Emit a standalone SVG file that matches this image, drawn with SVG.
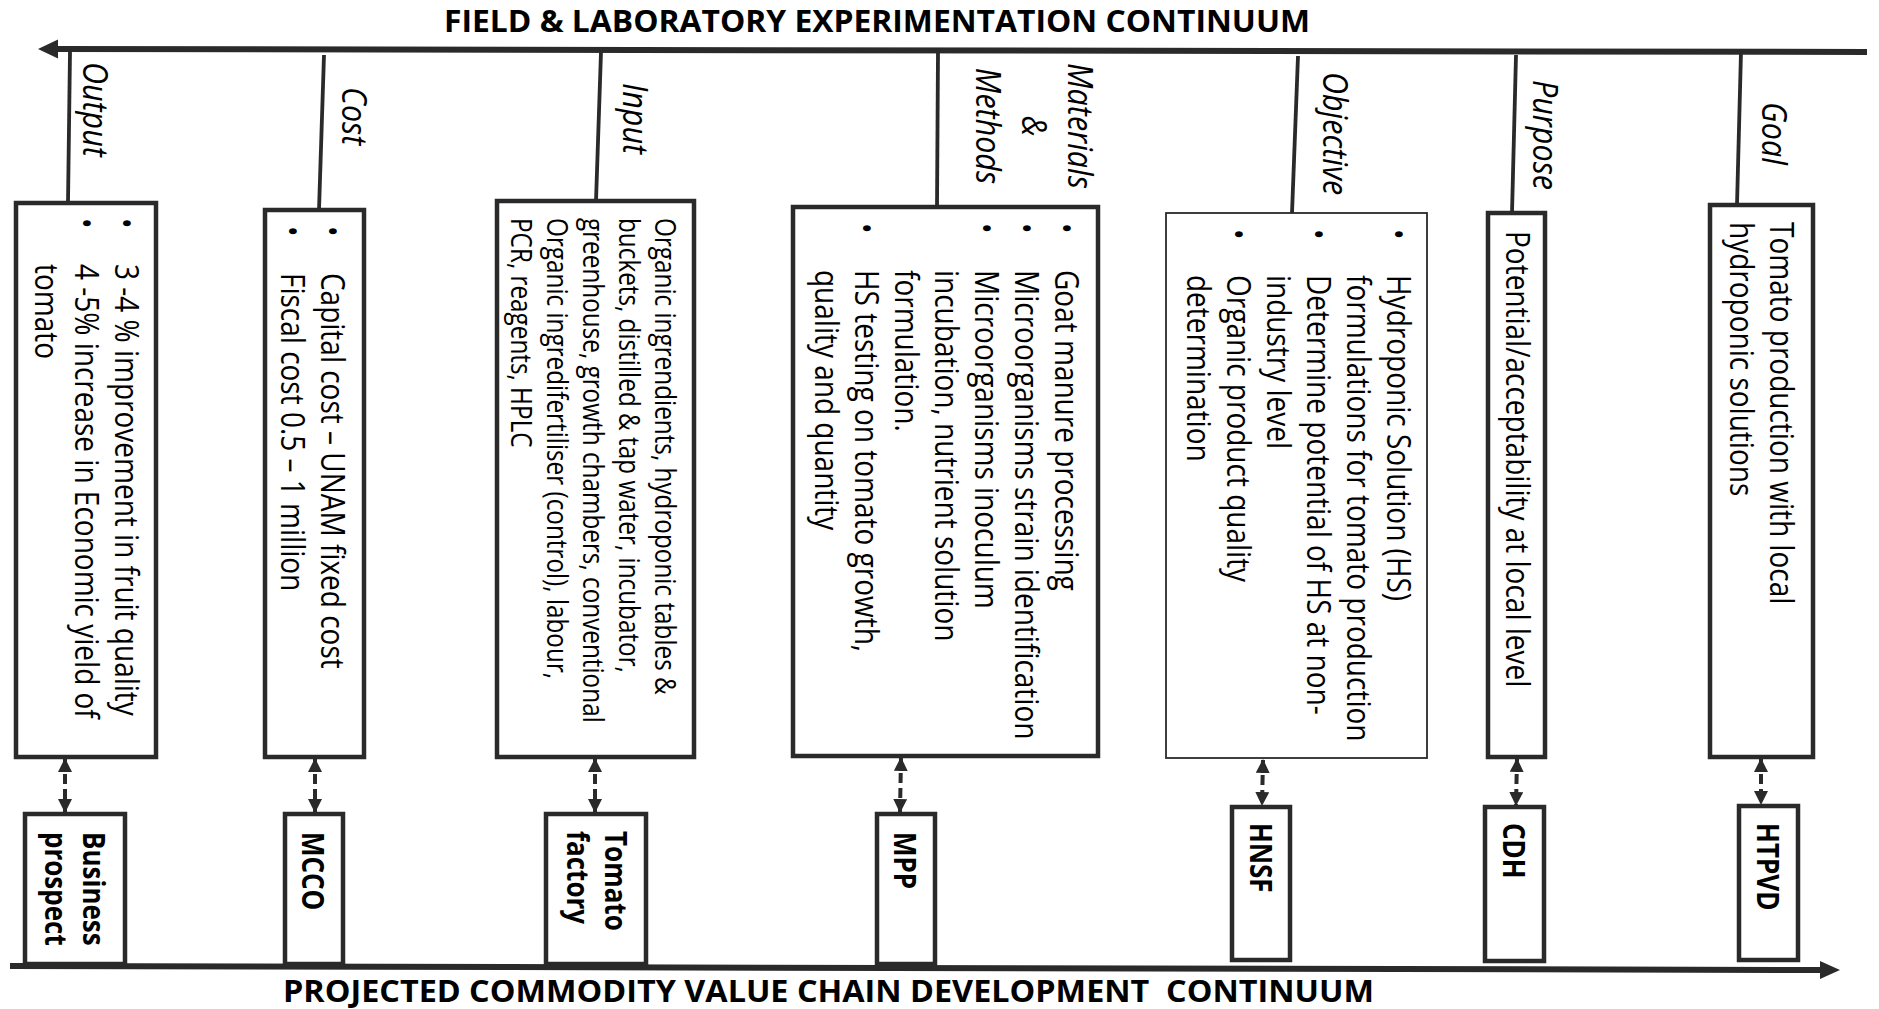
<svg xmlns="http://www.w3.org/2000/svg" width="1879" height="1009" viewBox="0 0 1879 1009">
<defs>
<style>
.ln{stroke:#2a2a2a;stroke-width:3.8;fill:none;stroke-linecap:butt}
.ax{stroke:#2a2a2a;stroke-width:6;fill:none}
.hd{fill:#2a2a2a;stroke:none}
.box{fill:#fff;stroke:#2a2a2a;stroke-width:4.5}
.thin{stroke-width:1.8}
.da{stroke:#2a2a2a;stroke-width:4;fill:none;stroke-dasharray:10 5;marker-start:url(#ah);marker-end:url(#ah)}
.t{font-family:"Open Sans","Liberation Sans",sans-serif;font-size:28px;fill:#000}
.sm{font-size:24.3px}
.lab{font-family:"Open Sans","Liberation Sans",sans-serif;font-style:italic;font-size:30.5px;fill:#000}
.bl{font-family:"Open Sans","Liberation Sans",sans-serif;font-weight:700;font-size:26px;fill:#000}
.ttl{font-family:"Open Sans","Liberation Sans",sans-serif;font-weight:700;font-size:31px;fill:#000}
</style>
<marker id="ah" viewBox="0 0 14 14" refX="13" refY="7" markerWidth="14" markerHeight="14" markerUnits="userSpaceOnUse" orient="auto-start-reverse">
<path d="M0,0 L14,7 L0,14 z" fill="#2a2a2a"/>
</marker>
</defs>
<rect width="1879" height="1009" fill="#fff"/>

<text id="title-top" class="ttl" x="444" y="32" textLength="866" lengthAdjust="spacingAndGlyphs">FIELD &amp; LABORATORY EXPERIMENTATION CONTINUUM</text>
<text id="title-bottom" class="ttl" x="283" y="1002" textLength="1091" lengthAdjust="spacingAndGlyphs" xml:space="preserve">PROJECTED COMMODITY VALUE CHAIN DEVELOPMENT  CONTINUUM</text>

<g id="connectors">
<line class="ax" x1="55" y1="49" x2="1867" y2="52"/>
<polygon class="hd" points="38,49 58,39.5 58,58.5"/>
<line class="ax" x1="10" y1="966" x2="1822" y2="970"/>
<polygon class="hd" points="1840,970 1820,961 1820,979"/>
<line class="ln" x1="70" y1="52" x2="68" y2="203"/>
<line class="ln" x1="324" y1="55" x2="319" y2="210"/>
<line class="ln" x1="601" y1="52" x2="596" y2="201"/>
<line class="ln" x1="938" y1="52" x2="937" y2="207"/>
<line class="ln" x1="1298" y1="56" x2="1292" y2="213"/>
<line class="ln" x1="1516" y1="55" x2="1512" y2="213"/>
<line class="ln" x1="1741" y1="52" x2="1737" y2="205"/>
<line class="da" x1="65" y1="759" x2="65" y2="812"/>
<line class="da" x1="315" y1="759" x2="315" y2="812"/>
<line class="da" x1="595" y1="759" x2="595" y2="812"/>
<line class="da" x1="901" y1="758" x2="900" y2="812"/>
<line class="da" x1="1263" y1="760" x2="1262" y2="805"/>
<line class="da" x1="1517" y1="759" x2="1516" y2="805"/>
<line class="da" x1="1761" y1="759" x2="1761" y2="804"/>
</g>

<g id="lab-output"><text class="lab" transform="translate(83,62) rotate(90) scale(1,1.15)" x="0" y="0">Output</text></g>
<g id="lab-cost"><text class="lab" transform="translate(342,87) rotate(90) scale(1,1.15)" x="0" y="0">Cost</text></g>
<g id="lab-input"><text class="lab" transform="translate(623,83) rotate(90) scale(1,1.15)" x="0" y="0">Input</text></g>
<g id="lab-mm"><text class="lab" text-anchor="middle" transform="translate(1068,126) rotate(90) scale(1,1.15)"><tspan x="0" y="0">Materials</tspan><tspan x="0" y="40">&amp;</tspan><tspan x="0" y="80">Methods</tspan></text></g>
<g id="lab-objective"><text class="lab" transform="translate(1323,72) rotate(90) scale(1,1.15)" x="0" y="0">Objective</text></g>
<g id="lab-purpose"><text class="lab" transform="translate(1533,80) rotate(90) scale(1,1.15)" x="0" y="0">Purpose</text></g>
<g id="lab-goal"><text class="lab" transform="translate(1762,102) rotate(90) scale(1,1.15)" x="0" y="0">Goal</text></g>

<g id="node-output">
<rect class="box" x="16" y="203" width="140" height="554"/>
<text class="t" transform="translate(115,218) rotate(90) scale(1,1.18)"><tspan x="0" y="0">•</tspan><tspan x="46" y="0">3 -4 % improvement in fruit quality</tspan><tspan x="0" y="33.9">•</tspan><tspan x="46" y="33.9">4 -5% increase in Economic yield of</tspan><tspan x="46" y="67.8">tomato</tspan></text>
</g>
<g id="node-cost">
<rect class="box" x="265" y="210" width="99" height="547"/>
<text class="t" transform="translate(321,226) rotate(90) scale(1,1.18)"><tspan x="0" y="0">•</tspan><tspan x="47" y="0">Capital cost – UNAM fixed cost</tspan><tspan x="0" y="33.9">•</tspan><tspan x="47" y="33.9">Fiscal cost 0.5 – 1 million</tspan></text>
</g>
<g id="node-input">
<rect class="box" x="497" y="201" width="197" height="556"/>
<text class="t sm" transform="translate(655,218) rotate(90) scale(1,1.2)"><tspan x="0" y="0">Organic ingrendients, hydroponic tables &amp;</tspan><tspan x="0" y="30">buckets, distilled &amp; tap water, incubator,</tspan><tspan x="0" y="60">greenhouse, growth chambers, conventional</tspan><tspan x="0" y="90">Organic ingredifertiliser (control), labour,</tspan><tspan x="0" y="120">PCR, reagents, HPLC</tspan></text>
</g>
<g id="node-mm">
<rect class="box" x="793" y="207" width="305" height="549"/>
<text class="t" transform="translate(1055,223) rotate(90) scale(1,1.18)"><tspan x="0" y="0">•</tspan><tspan x="47" y="0">Goat manure processing</tspan><tspan x="0" y="33.9">•</tspan><tspan x="47" y="33.9">Microorganisms strain identification</tspan><tspan x="0" y="67.8">•</tspan><tspan x="47" y="67.8">Microorganisms inoculum</tspan><tspan x="47" y="101.7">incubation, nutrient solution</tspan><tspan x="47" y="135.6">formulation.</tspan><tspan x="0" y="169.5">•</tspan><tspan x="47" y="169.5">HS testing on tomato growth,</tspan><tspan x="47" y="203.4">quality and quantity</tspan></text>
</g>
<g id="node-objective">
<rect class="box thin" x="1166" y="213" width="261" height="545"/>
<text class="t" transform="translate(1387,229) rotate(90) scale(1,1.18)"><tspan x="0" y="0">•</tspan><tspan x="46" y="0">Hydroponic Solution (HS)</tspan><tspan x="46" y="33.9">formulations for tomato production</tspan><tspan x="0" y="67.8">•</tspan><tspan x="46" y="67.8">Determine potential of HS at non-</tspan><tspan x="46" y="101.7">industry level</tspan><tspan x="0" y="135.6">•</tspan><tspan x="46" y="135.6">Organic product quality</tspan><tspan x="46" y="169.5">determination</tspan></text>
</g>
<g id="node-purpose">
<rect class="box" x="1488" y="213" width="57" height="544"/>
<text class="t" transform="translate(1506,231) rotate(90) scale(1,1.18)" x="0" y="0">Potential/acceptability at local level</text>
</g>
<g id="node-goal">
<rect class="box" x="1710" y="205" width="103" height="552"/>
<text class="t" transform="translate(1770,222) rotate(90) scale(1,1.18)"><tspan x="0" y="0">Tomato production with local</tspan><tspan x="0" y="33.9">hydroponic solutions</tspan></text>
</g>

<g id="node-business">
<rect class="box" x="25" y="814" width="100" height="150"/>
<text class="bl" transform="translate(83,832) rotate(90) scale(1,1.2)"><tspan x="0" y="0">Business</tspan><tspan x="0" y="31.7">prospect</tspan></text>
</g>
<g id="node-mcco">
<rect class="box" x="285" y="814" width="58" height="150"/>
<text class="bl" transform="translate(302,832) rotate(90) scale(1,1.2)" x="0" y="0">MCCO</text>
</g>
<g id="node-tomato">
<rect class="box" x="546" y="814" width="100" height="150"/>
<text class="bl" transform="translate(605,831) rotate(90) scale(1,1.2)"><tspan x="0" y="0">Tomato</tspan><tspan x="0" y="31.7">factory</tspan></text>
</g>
<g id="node-mpp">
<rect class="box" x="877" y="814" width="58" height="150"/>
<text class="bl" transform="translate(894,832) rotate(90) scale(1,1.2)" x="0" y="0">MPP</text>
</g>
<g id="node-hnsf">
<rect class="box" x="1232" y="807" width="58" height="153"/>
<text class="bl" transform="translate(1250,823) rotate(90) scale(1,1.2)" x="0" y="0">HNSF</text>
</g>
<g id="node-cdh">
<rect class="box" x="1485" y="807" width="59" height="154"/>
<text class="bl" transform="translate(1503,823) rotate(90) scale(1,1.2)" x="0" y="0">CDH</text>
</g>
<g id="node-htpvd">
<rect class="box" x="1739" y="806" width="59" height="154"/>
<text class="bl" transform="translate(1757,823) rotate(90) scale(1,1.2)" x="0" y="0">HTPVD</text>
</g>
</svg>
